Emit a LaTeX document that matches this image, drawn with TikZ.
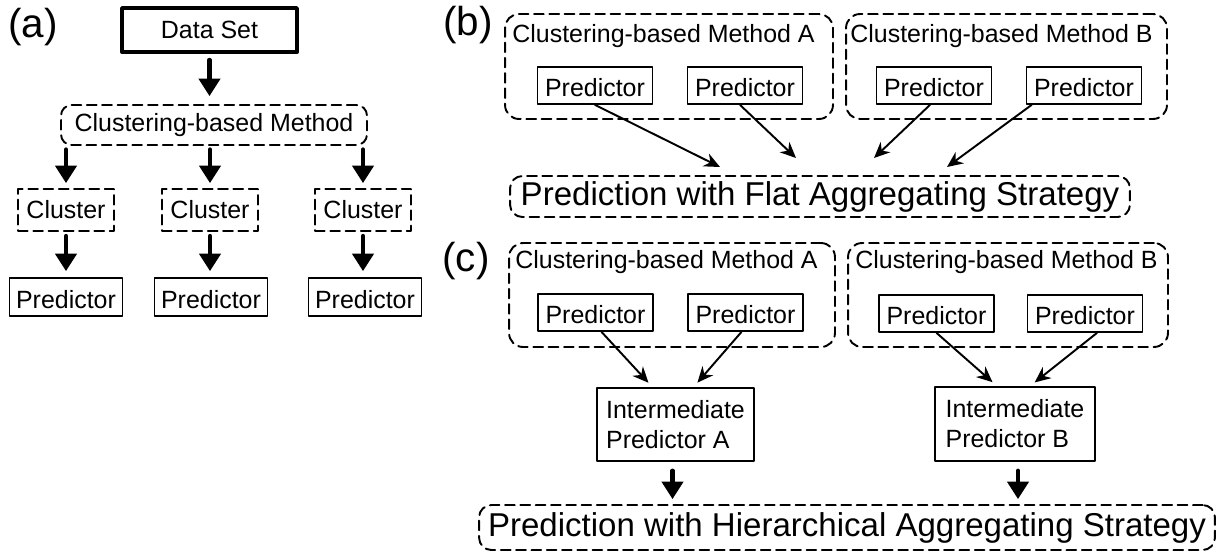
\documentclass[tikz,border=0pt]{standalone}
\usepackage{fontspec}
\setmainfont{Liberation Sans}
\usetikzlibrary{calc}
\usetikzlibrary{arrows.meta}

\begin{document}
\begin{tikzpicture}[x=0.02cm, y=-0.02cm, line cap = round, line join = round, >={Stealth[length=9pt,width=8pt]}]
\tikzstyle{txt}=[font=\fontsize{14.2}{17}\selectfont, inner sep=0pt]
\tikzstyle{solidbox}=[txt, draw=black, line width=1pt]
\tikzstyle{predbox}=[solidbox, minimum width=2.3cm, minimum height=0.74cm, text height=13pt, text depth=0pt]
\tikzstyle{dashbox}=[txt, draw=black, line width=1.1pt, dash pattern=on 5.5pt off 3.2pt]
\tikzstyle{groupbox}=[dashbox, rounded corners=8pt]
\tikzstyle{bigbox}=[dashbox, rounded corners=7pt, font=\fontsize{18.8}{22}\selectfont]
\tikzstyle{panel}=[inner sep=0pt, font=\fontsize{23}{26}\selectfont]
\tikzstyle{fat}=[line width=2.4pt, -{Triangle[length=10pt,width=12pt]}]
\tikzstyle{link}=[line width=1.1pt, ->]
\useasboundingbox (0,0) rectangle (1223,552);

% (a)
\node[panel, anchor=base west] (la) at (8,37) {(a)};
\node[solidbox, line width=2.2pt, minimum width=3.5cm, minimum height=0.88cm] (data) at (209.5,30) {Data Set};
\node[dashbox, rounded corners=6pt, minimum width=6.12cm, minimum height=0.8cm] (method) at (214,125) {Clustering-based Method};
\node[dashbox, minimum width=1.92cm, minimum height=0.84cm] (cl1) at (66,210) {Cluster};
\node[dashbox, minimum width=1.92cm, minimum height=0.84cm] (cl2) at (210,210) {Cluster};
\node[dashbox, minimum width=1.92cm, minimum height=0.84cm] (cl3) at (363,210) {Cluster};
\node[predbox, minimum width=2.26cm, minimum height=0.76cm] (pr1) at (66,297) {Predictor};
\node[predbox, minimum width=2.26cm, minimum height=0.76cm] (pr2) at (211,297) {Predictor};
\node[predbox, minimum width=2.26cm, minimum height=0.76cm] (pr3) at (365,297) {Predictor};

\draw[fat, shorten <=3.4pt, shorten >=4.5pt] (data.south) -- (data.south |- method.north);
\draw[fat, shorten <=2pt, shorten >=2.8pt] (method.south -| cl1) -- (cl1.north);
\draw[fat, shorten <=2pt, shorten >=2.8pt] (method.south -| cl2) -- (cl2.north);
\draw[fat, shorten <=2pt, shorten >=2.8pt] (method.south -| cl3) -- (cl3.north);
\draw[fat, shorten <=2.3pt, shorten >=3.4pt] (cl1.south) -- (cl1.south |- pr1.north);
\draw[fat, shorten <=2.3pt, shorten >=3.4pt] (cl2.south) -- (cl2.south |- pr2.north);
\draw[fat, shorten <=2.3pt, shorten >=3.4pt] (cl3.south) -- (cl3.south |- pr3.north);

% (b)
\node[panel, anchor=base west] (lb) at (443,35) {(b)};
\node[groupbox, minimum width=6.56cm, minimum height=2.1cm] (gA) at (669,66.5) {};
\node[groupbox, minimum width=6.42cm, minimum height=2.1cm] (gB) at (1006.5,66.5) {};
\node[txt, anchor=base west] (tA) at (512,42) {Clustering-based Method A};
\node[txt, anchor=base west] (tB) at (850,42) {Clustering-based Method B};
\node[predbox] (bA1) at (595,85.5) {Predictor};
\node[predbox] (bA2) at (745,85.5) {Predictor};
\node[predbox] (bB1) at (934,85.5) {Predictor};
\node[predbox] (bB2) at (1084,85.5) {Predictor};
\node[bigbox, minimum width=12.4cm, minimum height=0.82cm] (flat) at (820,196.5) {Prediction with Flat Aggregating Strategy};
\coordinate (e1) at (720,167);
\coordinate (e2) at (796,158);
\coordinate (e3) at (874,158);
\coordinate (e4) at (947,167);

\draw[link] (bA1.south) -- (e1);
\draw[link] ($(bA2.south)+(-5,0)$) -- (e2);
\draw[link] ($(bB1.south)+(-4,0)$) -- (e3);
\draw[link] ($(bB2.south west)+(6,0)$) -- (e4);

% (c)
\node[panel, anchor=base west] (lc) at (442,271) {(c)};
\node[groupbox, minimum width=6.52cm, minimum height=2.08cm] (hA) at (672,295) {};
\node[groupbox, minimum width=6.4cm, minimum height=2.08cm] (hB) at (1008,295) {};
\node[txt, anchor=base west] (sA) at (515,268) {Clustering-based Method A};
\node[txt, anchor=base west] (sB) at (855,268) {Clustering-based Method B};
\node[predbox] (cA1) at (595.5,312.5) {Predictor};
\node[predbox] (cA2) at (745.5,312.5) {Predictor};
\node[predbox] (cB1) at (936.5,313.5) {Predictor};
\node[predbox] (cB2) at (1085,313.5) {Predictor};
\node[solidbox, align=left, minimum width=3.14cm, minimum height=1.46cm] (intA) at (675.5,424.5) {Intermediate\\Predictor A};
\node[solidbox, align=left, minimum width=3.2cm, minimum height=1.48cm] (intB) at (1015,424) {Intermediate\\Predictor B};
\node[bigbox, minimum width=14.72cm, minimum height=0.9cm] (hier) at (847,527.5) {Prediction with Hierarchical Aggregating Strategy};
\coordinate (fA) at ($(intA.south)+(-3,0)$);
\coordinate (fB) at ($(intB.south)+(3,0)$);

\draw[link, shorten >=3.4pt] ($(cA1.south)+(6,0)$) -- ($(intA.north)+(-23,0)$);
\draw[link, shorten >=3.4pt] ($(cA2.south)+(-4,0)$) -- ($(intA.north)+(18,0)$);
\draw[link, shorten >=3.4pt] (cB1.south) -- ($(intB.north)+(-18,0)$);
\draw[link, shorten >=3.4pt] ($(cB2.south)+(12,0)$) -- ($(intB.north)+(15,0)$);
\draw[fat, shorten <=5pt, shorten >=2.8pt] (fA) -- (fA |- hier.north);
\draw[fat, shorten <=5pt, shorten >=2.8pt] (fB) -- (fB |- hier.north);
\end{tikzpicture}
\end{document}
